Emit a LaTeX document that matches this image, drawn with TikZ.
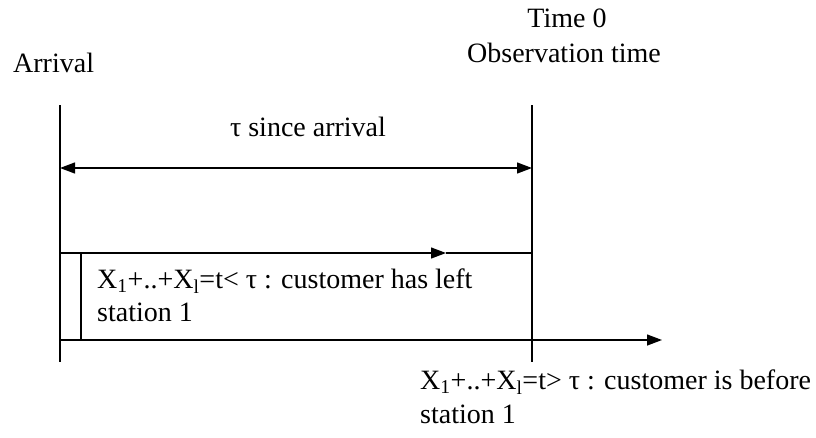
\documentclass[tikz,border=0pt]{standalone}
\usepackage{fontspec}
\setmainfont{Liberation Serif}
\usetikzlibrary{arrows.meta}
\begin{document}
\begin{tikzpicture}[x=1pt,y=-1pt,
  txt/.style={inner sep=0pt,font=\fontsize{28}{35}\selectfont},
  ln/.style={line width=1.3pt},
  tip/.style={-{Triangle[length=15pt,width=11pt]}}]
\useasboundingbox (0,0) rectangle (816,437);
% coordinates
\coordinate (LT) at (60,105);  \coordinate (LB) at (60,362);
\coordinate (RT) at (532,105); \coordinate (RB) at (532,362);
\coordinate (DA) at (60,168);  \coordinate (DB) at (532,168);
\coordinate (MA) at (60,253);  \coordinate (MM) at (446,253); \coordinate (MB) at (532,253);
\coordinate (IA) at (81,253);  \coordinate (IB) at (81,340);
\coordinate (BA) at (60,340);  \coordinate (BB) at (662,340);
% lines
\draw[ln] (LT) -- (LB);
\draw[ln] (RT) -- (RB);
\draw[ln,{Triangle[length=15pt,width=11pt]}-{Triangle[length=15pt,width=11pt]}] (DA) -- (DB);
\draw[ln,tip] (MA) -- (MM);
\draw[ln] (MM) -- (MB);
\draw[ln] (IA) -- (IB);
\draw[ln,tip] (BA) -- (BB);
% texts
\node[txt,anchor=base] (t0) at (567,27) {Time 0};
\node[txt,anchor=base] (obs) at (564,62) {Observation time};
\node[txt,anchor=base west] (arr) at (13,72) {Arrival};
\node[txt,anchor=base] (since) at (308,136) {τ since arrival};
\node[txt,anchor=base west] (m1) at (97,288) {X\textsubscript{1}+..+X\textsubscript{l}=t< τ : customer has left};
\node[txt,anchor=base west] (m2) at (97,321) {station 1};
\node[txt,anchor=base west] (b1) at (420,389) {X\textsubscript{1}+..+X\textsubscript{l}=t> τ : customer is before};
\node[txt,anchor=base west] (b2) at (420,423) {station 1};
\end{tikzpicture}
\end{document}
